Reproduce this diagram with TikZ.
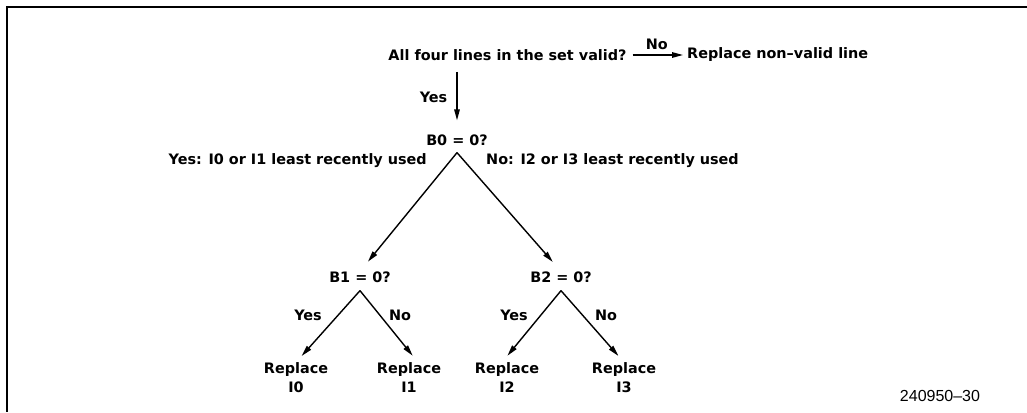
\documentclass[tikz,border=0pt]{standalone}
\usepackage{fontspec}
\setmainfont{DejaVu Sans}
\newfontfamily\codefont{Liberation Sans}
\usetikzlibrary{arrows.meta}
\tikzset{
  txt/.style={inner sep=0pt, font=\fontsize{14.4}{19}\selectfont\bfseries, align=center},
  codetxt/.style={inner sep=0pt, font=\codefont\fontsize{16}{19}\selectfont},
  arr/.style={line width=1.4pt, -{Triangle[length=11pt,width=5.5pt]}},
  frame/.style={line width=2pt}
}
\begin{document}
\begin{tikzpicture}[x=1pt,y=-1pt]
\useasboundingbox (0,0) rectangle (1027,412);
\draw[frame] (1027,7) -- (7,7) -- (7,412);

\node[txt] (q) at (507.5,55) {All four lines in the set valid?};
\node[txt, anchor=west] (rep) at (687,55) {Replace non–valid line};
\draw[arr, shorten <=6pt, shorten >=4pt] (q.east) -- (rep.west)
  node[txt, midway, above=5pt] (lno) {No};

\node[txt] (b0) at (457,140) {B0 = 0?};
\draw[arr, shorten <=11pt, shorten >=14pt] (q.south -| b0.north) -- (b0.north)
  node[txt, midway, left=9pt] (lyes) {Yes};
\coordinate (a0) at ([yshift=-7pt]b0.south);

\node[txt, anchor=east] (ly0) at (427,161) {Yes: I0 or I1 least recently used};
\node[txt, anchor=west] (ln0) at (486,161) {No: I2 or I3 least recently used};

\node[txt] (b1) at (360,277) {B1 = 0?};
\node[txt] (b2) at (561,277) {B2 = 0?};
\draw[arr, shorten >=12.5pt] (a0) -- (b1.north);
\draw[arr, shorten >=12.5pt] (a0) -- (b2.north);
\coordinate (a1) at ([yshift=-8pt]b1.south);
\coordinate (a2) at ([yshift=-8pt]b2.south);

\node[txt, anchor=north] (r0) at (296,362.3) {Replace\\I0};
\node[txt, anchor=north] (r1) at (409,362.3) {Replace\\I1};
\node[txt, anchor=north] (r2) at (507,362.3) {Replace\\I2};
\node[txt, anchor=north] (r3) at (624,362.3) {Replace\\I3};

\draw[arr, shorten >=8.5pt] (a1) -- (r0.north);
\draw[arr, shorten >=8.5pt] (a1) -- ([xshift=9pt]r1.north);
\draw[arr, shorten >=8.5pt] (a2) -- ([xshift=-5pt]r2.north);
\draw[arr, shorten >=8.5pt] (a2) -- (r3.north);

\node[txt] (y1) at (308,315) {Yes};
\node[txt] (n1) at (400,315) {No};
\node[txt] (y2) at (514,315) {Yes};
\node[txt] (n2) at (606,315) {No};

\node[codetxt] (code) at (940,396) {240950–30};
\end{tikzpicture}
\end{document}
